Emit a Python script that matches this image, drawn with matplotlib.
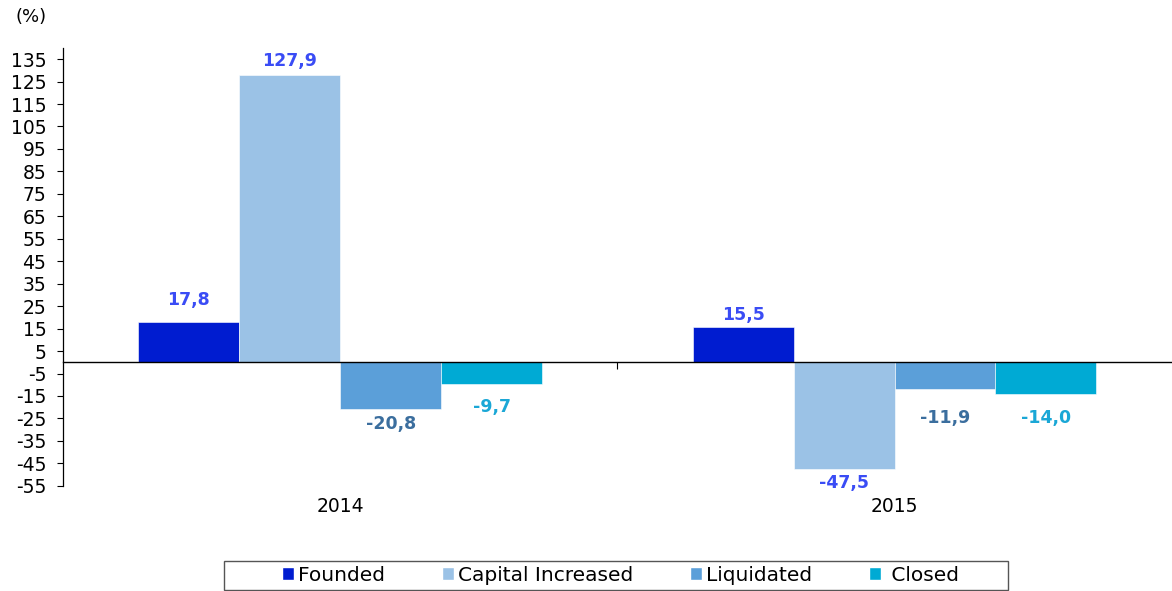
import numpy as np
import matplotlib
matplotlib.use("Agg")
import matplotlib.pyplot as plt
from matplotlib.patches import Patch, Rectangle

plt.rcParams['font.family'] = ['DejaVu Sans']

# data
years = ['2014', '2015']
series = ['Founded', 'Capital Increased', 'Liquidated', 'Closed']
founded = [17.8, 15.5]
capital_increased = [127.9, -47.5]
liquidated = [-20.8, -11.9]
closed = [-9.7, -14.0]
yticks = list(range(-55, 136, 10))

bar_colors = ['#001cd0', '#9bc2e6', '#5b9fd9', '#00aad4']
label_colors = ['#3a4cf5', '#3a4cf5', '#3b6e9e', '#1aa7d6']
# label centre offsets from bar end, in pixels (as in the original layout)
label_offsets = [[22, 12], [14, -14], [-15, -29], [-23, -24]]
values = [founded, capital_increased, liquidated, closed]

fig = plt.figure(figsize=(11.72, 5.91), dpi=100)
ax = fig.add_axes([0.0538, 0.178, 0.946, 0.741])

x = np.arange(len(years))
w = 0.182
for i, (vals, bc, lc) in enumerate(zip(values, bar_colors, label_colors)):
    pos = x + (i - 1.5) * w
    ax.bar(pos, vals, width=w, color=bc, edgecolor='white', linewidth=0.4, zorder=2)
    for j, (px, v) in enumerate(zip(pos, vals)):
        txt = ('%.1f' % v).replace('.', ',')
        ax.annotate(txt, (px, v), xytext=(0, label_offsets[i][j] * 0.72),
                    textcoords='offset points', ha='center', va='center',
                    fontsize=12.5, fontweight='bold', color=lc)

ax.set_xlim(-0.5, 1.5)
ax.set_ylim(-55, 140)
ax.set_yticks(yticks)
ax.set_yticklabels([str(t) for t in yticks], fontsize=13.5)
ax.tick_params(axis='y', direction='out', length=4, width=0.8, pad=8)

ax.spines['top'].set_visible(False)
ax.spines['right'].set_visible(False)
ax.spines['left'].set_linewidth(0.9)
ax.spines['bottom'].set_position(('data', 0))
ax.spines['bottom'].set_linewidth(1.0)
ax.spines['bottom'].set_zorder(3)

# x ticks: category boundary tick on the zero line, labels under the axis
ax.set_xticks([0.5])
ax.set_xticklabels([''])
ax.tick_params(axis='x', length=5, width=0.8)
for xi, yr in zip(x, years):
    ax.text(xi, -60, yr, ha='center', va='top', fontsize=13.5)

fig.text(0.0135, 0.972, '(%)', fontsize=13, va='center')

# legend with a wide frame drawn separately
handles = [Patch(facecolor=c, edgecolor='white') for c in bar_colors]
labels = series[:3] + [' ' + series[3]]
fig.legend(handles, labels, loc='center', bbox_to_anchor=(0.5294, 0.027),
           ncol=4, fontsize=14.5, frameon=False,
           handlelength=0.62, handleheight=0.65, handletextpad=0.2,
           columnspacing=2.8, borderpad=0.0)
fig.patches.append(Rectangle((0.1911, 0.0025), 0.669, 0.049, transform=fig.transFigure,
                             fill=False, edgecolor='#555555', linewidth=1.0))

fig.savefig('out.png', dpi=100)
